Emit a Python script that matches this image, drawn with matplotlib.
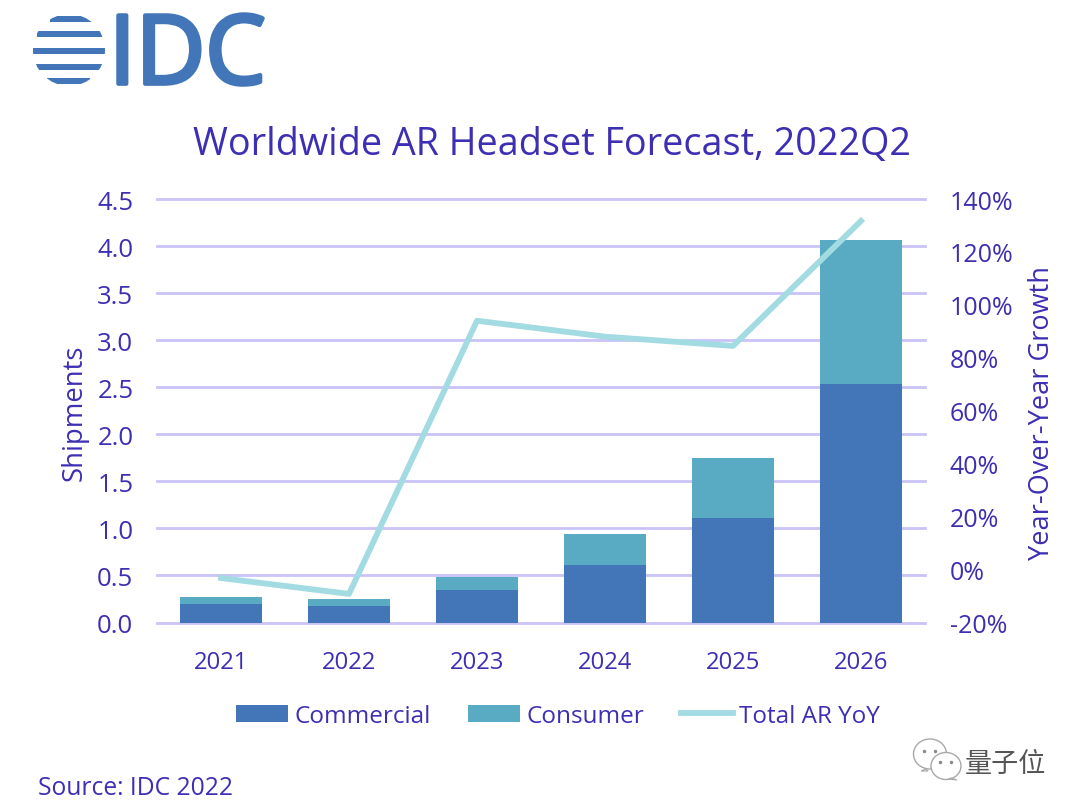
import matplotlib
matplotlib.use("Agg")

import matplotlib.patheffects as pe
import matplotlib.pyplot as plt
import numpy as np
from matplotlib.patches import Ellipse, Polygon, Rectangle
from matplotlib.ticker import FuncFormatter

years = ["2021", "2022", "2023", "2024", "2025", "2026"]
commercial = [0.20, 0.18, 0.35, 0.61, 1.11, 2.53]
consumer = [0.07, 0.07, 0.13, 0.33, 0.64, 1.53]
total_yoy = [-3.2, -9.2, 94, 88, 84.5, 131.7]

PURPLE = "#3d2fb3"
GRID = "#c9c3f7"
BLUE = "#4276b8"
TEAL = "#58abc2"
LINE = "#a3dbe2"

W, H = 1080, 812

plt.rcParams["font.family"] = ["Open Sans", "Noto Sans CJK SC", "DejaVu Sans"]

fig = plt.figure(figsize=(W / 100, H / 100), dpi=100)

# plot area, pixel box converted to figure fractions
left, right, top, bottom = 157, 925, 200, 623.5
ax = fig.add_axes([left / W, 1 - bottom / H, (right - left) / W, (bottom - top) / H])
x = np.arange(len(years))

ax.bar(x, commercial, width=0.64, color=BLUE, label="Commercial", zorder=2)
ax.bar(x, consumer, width=0.64, bottom=commercial, color=TEAL, label="Consumer", zorder=2)

ax.set_xlim(-0.5, 5.5)
ax.set_ylim(0, 4.5)
ax.set_yticks(np.arange(0, 4.6, 0.5))
ax.set_xticks(x, years)
ax.yaxis.set_major_formatter(FuncFormatter(lambda v, _: f"{v:.1f}"))
ax.grid(axis="y", color=GRID, linewidth=2, zorder=0, clip_on=False)
ax.set_axisbelow(True)

ax2 = ax.twinx()
line, = ax2.plot(x, total_yoy, color=LINE, linewidth=4.2, label="Total AR YoY", zorder=3)
ax2.set_ylim(-20, 140)
ax2.set_yticks(np.arange(-20, 141, 20))
ax2.yaxis.set_major_formatter(FuncFormatter(lambda v, _: f"{v:.0f}%"))

for a in (ax, ax2):
    for spine in a.spines.values():
        spine.set_visible(False)
ax.tick_params(axis="y", length=0, labelsize=18.5, labelcolor=PURPLE, pad=17)
ax.tick_params(axis="x", length=0, labelsize=17.2, labelcolor=PURPLE, pad=20)
ax2.tick_params(axis="y", length=0, labelsize=18, labelcolor=PURPLE, pad=18)

fig.text(552 / W, 1 - 145 / H, "Worldwide AR Headset Forecast, 2022Q2",
         ha="center", va="center", fontsize=27.2, color=PURPLE)
fig.text(38 / W, 1 - 789 / H, "Source: IDC 2022", ha="left", va="center",
         fontsize=17.7, color=PURPLE)
fig.text(75 / W, 1 - 413 / H, "Shipments", rotation=90, ha="center", va="center",
         fontsize=19.8, color=PURPLE)
fig.text(1042 / W, 1 - 413 / H, "Year-Over-Year Growth", rotation=90, ha="center", va="center",
         fontsize=19.5, color=PURPLE)

handles = [ax.containers[0], ax.containers[1], line]
fig.legend(handles, ["Commercial", "Consumer", "Total AR YoY"], ncol=3, frameon=False,
           loc="center", bbox_to_anchor=(558 / W, 1 - 717 / H), fontsize=17.5,
           labelcolor=PURPLE, handlelength=2.14, handletextpad=0.28, columnspacing=1.5)

# overlay in pixel coordinates for the logo and the watermark
over = fig.add_axes([0, 0, 1, 1], facecolor="none")
over.set_xlim(0, W)
over.set_ylim(H, 0)
over.axis("off")

# IDC logo: globe made of clipped stripes
globe = Ellipse((69, 51), 72, 72, transform=over.transData, facecolor="none", edgecolor="none")
over.add_patch(globe)
for sx, sw, sy in [(50, 42, 20), (37, 66, 35), (33, 73, 52), (36, 66, 68), (47, 43, 82)]:
    stripe = Rectangle((sx, sy - 3), sw, 6, color=BLUE, linewidth=0)
    over.add_patch(stripe)
    stripe.set_clip_path(globe)
over.text(109, 60, "IDC", fontsize=69, color=BLUE, ha="left", va="center",
          path_effects=[pe.withStroke(linewidth=3, foreground=BLUE)])

# watermark: two speech bubbles and the account name
for cx, cy, w, h in [(930, 755, 33, 30), (946, 767, 30, 27)]:
    over.add_patch(Ellipse((cx, cy), w, h, facecolor="white", edgecolor="#a8a8a8", linewidth=1))
over.add_patch(Polygon([[926, 770], [921, 772], [928, 772]], facecolor="white", edgecolor="#a8a8a8", linewidth=0.8))
over.add_patch(Polygon([[951, 779], [957, 781], [948, 780]], facecolor="white", edgecolor="#a8a8a8", linewidth=0.8))
for dx, dy in [(924, 752), (935, 752), (940, 763), (951, 763)]:
    over.plot(dx, dy, "o", color="#8a8a8a", markersize=1.5)
over.text(965, 765, "量子位", fontsize=19.5, color="#555555", ha="left", va="center")

fig.savefig("out.png", dpi=100)
